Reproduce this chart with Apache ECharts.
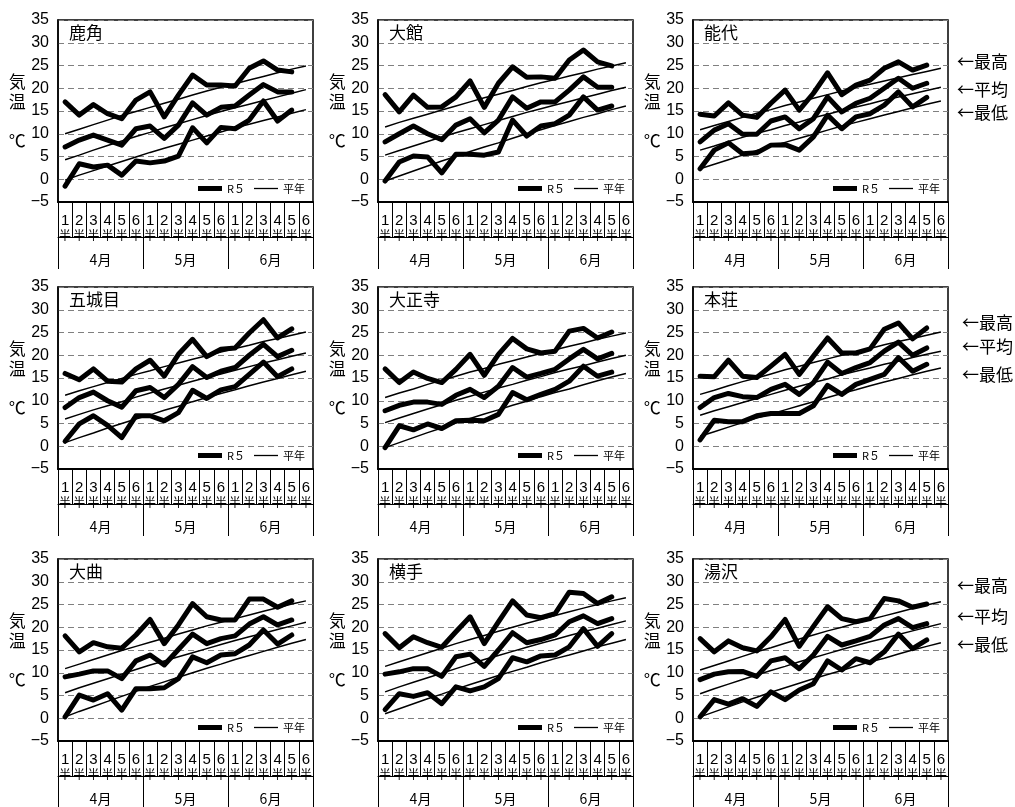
<!DOCTYPE html>
<html>
<head>
<meta charset="utf-8">
<script src="https://cdn.jsdelivr.net/npm/echarts/dist/echarts.min.js"></script>
<style>
  html, body { margin: 0; padding: 0; background: #fff; }
  #main { width: 1015px; height: 807px; }
</style>
</head>
<body>
<div id="main"></div>
<script>
// 半旬ごとの気温（R5：最高・平均・最低）と平年値
const stations = ['鹿角', '大館', '能代', '五城目', '大正寺', '本荘', '大曲', '横手', '湯沢'];
const monthLabels = ['4月', '5月', '6月'];
const halfLabels = ['1', '2', '3', '4', '5', '6'];
const yMin = -5, yMax = 35, yStep = 5;
const sideLabels = ['←最高', '←平均', '←最低'];

// 鹿角
const kazunoMax  = [17.0, 14.1, 16.4, 14.4, 13.3, 17.4, 19.2, 13.7, 18.5, 22.9, 20.7, 20.7, 20.5, 24.4, 26.0, 24.0, 23.6, null];
const kazunoMean = [7.1, 8.6, 9.7, 8.6, 7.5, 11.1, 11.7, 9.0, 11.9, 16.8, 14.1, 15.8, 16.1, 18.5, 20.8, 19.2, 19.2, null];
const kazunoMin  = [-1.5, 3.4, 2.7, 3.1, 0.9, 4.0, 3.6, 4.0, 5.1, 11.3, 8.0, 11.4, 11.1, 13.0, 17.2, 12.8, 15.2, null];
const kazunoNormMax  = [10.0, 11.0, 12.0, 13.0, 14.0, 14.9, 15.8, 16.7, 17.6, 18.5, 19.4, 20.2, 21.0, 21.8, 22.6, 23.4, 24.2, 24.9];
const kazunoNormMean = [4.3, 5.3, 6.4, 7.4, 8.4, 9.4, 10.3, 11.3, 12.2, 13.1, 14.0, 14.9, 15.7, 16.5, 17.3, 18.1, 18.9, 19.7];
const kazunoNormMin  = [-0.2, 0.9, 1.9, 2.9, 3.9, 4.9, 5.9, 6.8, 7.7, 8.6, 9.5, 10.4, 11.3, 12.1, 12.9, 13.7, 14.5, 15.3];

// 大館
const odateMax  = [18.6, 14.8, 18.5, 15.8, 15.9, 18.1, 21.6, 15.8, 21.1, 24.7, 22.4, 22.5, 22.2, 26.2, 28.4, 25.8, 24.9, null];
const odateMean = [8.2, 10.0, 11.7, 10.0, 8.7, 11.9, 13.3, 10.2, 13.0, 18.1, 15.6, 17.0, 17.0, 19.6, 22.5, 20.2, 20.2, null];
const odateMin  = [-0.4, 3.8, 5.1, 4.9, 1.4, 5.5, 5.5, 5.3, 6.0, 13.0, 9.5, 11.7, 12.2, 14.1, 18.1, 15.2, 16.1, null];
const odateNormMax  = [11.5, 12.5, 13.4, 14.3, 15.2, 16.1, 17.0, 17.9, 18.7, 19.5, 20.4, 21.2, 21.9, 22.7, 23.4, 24.2, 24.9, 25.6];
const odateNormMean = [5.3, 6.3, 7.3, 8.3, 9.3, 10.2, 11.1, 12.0, 12.9, 13.8, 14.7, 15.5, 16.3, 17.1, 17.9, 18.7, 19.5, 20.2];
const odateNormMin  = [-0.4, 0.7, 1.8, 2.9, 4.0, 5.0, 6.1, 7.1, 8.0, 9.0, 10.0, 10.9, 11.8, 12.7, 13.6, 14.4, 15.3, 16.1];

// 能代
const noshiroMax  = [14.3, 13.9, 16.8, 14.1, 13.6, 16.7, 19.6, 15.2, 18.9, 23.4, 18.6, 20.7, 21.8, 24.4, 25.8, 24.0, 25.1, null];
const noshiroMean = [8.2, 10.8, 12.2, 9.9, 9.9, 12.8, 13.7, 11.1, 13.3, 18.1, 14.8, 16.7, 17.8, 20.0, 22.2, 20.0, 21.1, null];
const noshiroMin  = [2.3, 6.4, 8.0, 5.6, 5.8, 7.5, 7.6, 6.4, 9.3, 14.1, 11.1, 13.7, 14.4, 16.3, 19.2, 15.9, 18.0, null];
const noshiroNormMax  = [10.9, 11.8, 12.7, 13.6, 14.5, 15.3, 16.2, 17.0, 17.8, 18.6, 19.4, 20.2, 20.9, 21.6, 22.3, 23.0, 23.7, 24.4];
const noshiroNormMean = [6.4, 7.3, 8.3, 9.2, 10.1, 10.9, 11.8, 12.6, 13.5, 14.3, 15.1, 15.9, 16.6, 17.4, 18.1, 18.8, 19.5, 20.2];
const noshiroNormMin  = [2.3, 3.3, 4.3, 5.3, 6.3, 7.2, 8.1, 9.0, 9.9, 10.8, 11.7, 12.5, 13.3, 14.1, 14.9, 15.7, 16.5, 17.2];

// 五城目
const gojomeMax  = [16.0, 14.6, 17.0, 14.3, 14.1, 17.0, 18.9, 15.4, 20.2, 23.5, 19.7, 21.3, 21.6, 24.9, 27.8, 23.8, 25.8, null];
const gojomeMean = [8.5, 10.7, 11.9, 10.0, 8.6, 12.2, 12.9, 10.7, 13.6, 17.5, 15.1, 16.5, 17.3, 20.0, 22.4, 19.7, 21.1, null];
const gojomeMin  = [1.1, 4.9, 6.7, 4.6, 1.9, 6.7, 6.7, 5.6, 7.4, 12.3, 10.5, 12.4, 13.1, 15.8, 18.5, 15.3, 17.0, null];
const gojomeNormMax  = [11.2, 12.2, 13.1, 14.0, 14.9, 15.8, 16.6, 17.5, 18.3, 19.1, 19.9, 20.7, 21.5, 22.2, 23.0, 23.7, 24.4, 25.1];
const gojomeNormMean = [6.0, 7.0, 8.0, 8.9, 9.8, 10.8, 11.7, 12.6, 13.4, 14.3, 15.1, 15.9, 16.7, 17.5, 18.3, 19.0, 19.8, 20.5];
const gojomeNormMin  = [0.8, 1.9, 2.9, 4.0, 5.0, 6.0, 6.9, 7.9, 8.8, 9.8, 10.7, 11.6, 12.4, 13.3, 14.1, 14.9, 15.7, 16.5];

// 大正寺
const taishojiMax  = [17.0, 14.0, 16.3, 14.9, 14.0, 16.9, 20.2, 15.6, 20.2, 23.7, 21.4, 20.5, 20.9, 25.3, 25.9, 23.8, 25.1, null];
const taishojiMean = [7.8, 9.0, 9.7, 9.7, 9.2, 11.2, 12.5, 10.7, 13.2, 17.3, 15.2, 16.0, 16.9, 19.2, 21.3, 19.2, 20.4, null];
const taishojiMin  = [-0.3, 4.5, 3.6, 4.9, 3.9, 5.6, 5.7, 5.6, 7.0, 11.8, 10.2, 11.4, 12.5, 14.3, 17.6, 15.4, 16.3, null];
const taishojiNormMax  = [10.7, 11.7, 12.6, 13.6, 14.5, 15.4, 16.3, 17.1, 18.0, 18.8, 19.6, 20.4, 21.2, 22.0, 22.7, 23.5, 24.2, 24.9];
const taishojiNormMean = [5.2, 6.2, 7.2, 8.2, 9.1, 10.1, 11.0, 11.9, 12.8, 13.6, 14.5, 15.3, 16.2, 17.0, 17.7, 18.5, 19.3, 20.0];
const taishojiNormMin  = [-0.3, 0.8, 1.9, 3.0, 4.0, 5.1, 6.1, 7.1, 8.0, 9.0, 9.9, 10.9, 11.8, 12.6, 13.5, 14.4, 15.2, 16.0];

// 本荘
const honjoMax  = [15.4, 15.3, 18.9, 15.4, 15.1, 17.6, 20.2, 15.8, 19.8, 23.8, 20.5, 20.5, 21.4, 25.7, 27.1, 23.6, 26.0, null];
const honjoMean = [8.5, 10.7, 11.6, 10.9, 10.7, 12.5, 13.6, 11.4, 14.0, 18.5, 16.0, 17.3, 18.4, 20.9, 22.9, 20.0, 21.6, null];
const honjoMin  = [1.4, 5.7, 5.4, 5.4, 6.7, 7.2, 7.2, 7.2, 8.9, 13.4, 11.4, 13.6, 14.7, 15.8, 19.5, 16.5, 18.0, null];
const honjoNormMax  = [11.4, 12.3, 13.3, 14.2, 15.0, 15.9, 16.8, 17.6, 18.4, 19.2, 20.0, 20.8, 21.5, 22.3, 23.0, 23.7, 24.4, 25.1];
const honjoNormMean = [6.8, 7.8, 8.7, 9.6, 10.5, 11.4, 12.3, 13.2, 14.0, 14.8, 15.7, 16.5, 17.2, 18.0, 18.7, 19.5, 20.2, 20.9];
const honjoNormMin  = [2.2, 3.2, 4.2, 5.2, 6.2, 7.1, 8.0, 8.9, 9.8, 10.7, 11.6, 12.4, 13.3, 14.1, 14.9, 15.7, 16.5, 17.2];

// 大曲
const omagariMax  = [18.1, 14.6, 16.6, 15.7, 15.4, 18.3, 21.7, 16.4, 20.5, 25.2, 22.3, 21.6, 21.6, 26.2, 26.2, 24.4, 25.8, null];
const omagariMean = [9.1, 9.7, 10.4, 10.4, 8.7, 12.6, 13.9, 11.7, 15.1, 18.5, 16.4, 17.5, 18.1, 20.7, 22.3, 20.5, 21.6, null];
const omagariMin  = [0.3, 5.1, 4.0, 5.4, 1.8, 6.5, 6.5, 6.7, 8.7, 13.5, 12.2, 13.9, 14.2, 16.1, 19.4, 16.3, 18.3, null];
const omagariNormMax  = [10.9, 11.9, 12.9, 13.9, 14.9, 15.8, 16.7, 17.6, 18.5, 19.4, 20.3, 21.1, 21.9, 22.7, 23.5, 24.3, 25.1, 25.8];
const omagariNormMean = [5.6, 6.7, 7.7, 8.7, 9.7, 10.7, 11.7, 12.6, 13.5, 14.4, 15.3, 16.2, 17.1, 17.9, 18.7, 19.5, 20.3, 21.1];
const omagariNormMin  = [0.3, 1.5, 2.6, 3.7, 4.8, 5.9, 7.0, 8.0, 9.0, 10.0, 11.0, 11.9, 12.9, 13.8, 14.7, 15.6, 16.5, 17.3];

// 横手
const yokoteMax  = [18.6, 15.5, 17.9, 16.6, 15.6, 19.0, 22.3, 16.4, 21.2, 25.8, 22.7, 22.1, 23.0, 27.7, 27.4, 25.2, 26.7, null];
const yokoteMean = [9.7, 10.2, 10.9, 10.9, 9.2, 13.5, 14.1, 11.4, 15.0, 18.8, 16.6, 17.3, 18.3, 21.2, 22.5, 20.8, 21.9, null];
const yokoteMin  = [1.9, 5.4, 4.8, 5.6, 3.2, 6.9, 6.0, 6.9, 8.7, 13.3, 12.4, 13.7, 13.9, 15.7, 19.7, 15.8, 18.6, null];
const yokoteNormMax  = [11.4, 12.4, 13.4, 14.4, 15.4, 16.4, 17.3, 18.2, 19.1, 20.0, 20.9, 21.7, 22.6, 23.4, 24.2, 25.0, 25.8, 26.5];
const yokoteNormMean = [5.8, 6.9, 7.9, 8.9, 9.9, 10.9, 11.9, 12.9, 13.8, 14.7, 15.6, 16.5, 17.3, 18.2, 19.0, 19.8, 20.6, 21.4];
const yokoteNormMin  = [1.0, 2.1, 3.2, 4.3, 5.3, 6.4, 7.4, 8.4, 9.4, 10.3, 11.2, 12.2, 13.1, 13.9, 14.8, 15.7, 16.5, 17.3];

// 湯沢
const yuzawaMax  = [17.5, 14.6, 17.0, 15.5, 14.8, 17.9, 21.7, 15.8, 20.2, 24.5, 21.9, 21.2, 21.9, 26.3, 25.8, 24.4, 25.1, null];
const yuzawaMean = [8.5, 9.7, 10.2, 10.3, 9.2, 12.6, 13.3, 10.9, 13.9, 18.0, 16.1, 17.0, 18.0, 20.5, 21.9, 19.9, 20.8, null];
const yuzawaMin  = [0.3, 4.1, 3.1, 4.3, 2.6, 5.8, 4.1, 6.2, 7.6, 12.6, 10.6, 13.1, 12.2, 14.6, 18.5, 15.3, 17.2, null];
const yuzawaNormMax  = [10.6, 11.6, 12.6, 13.6, 14.6, 15.5, 16.5, 17.4, 18.3, 19.2, 20.0, 20.9, 21.7, 22.5, 23.3, 24.1, 24.9, 25.6];
const yuzawaNormMean = [5.4, 6.5, 7.5, 8.5, 9.5, 10.5, 11.4, 12.4, 13.3, 14.2, 15.1, 16.0, 16.8, 17.6, 18.4, 19.2, 20.0, 20.8];
const yuzawaNormMin  = [0.3, 1.4, 2.5, 3.6, 4.6, 5.7, 6.7, 7.7, 8.7, 9.6, 10.5, 11.5, 12.4, 13.2, 14.1, 15.0, 15.8, 16.6];

const r5Sets = [
  [kazunoMax, kazunoMean, kazunoMin], [odateMax, odateMean, odateMin], [noshiroMax, noshiroMean, noshiroMin],
  [gojomeMax, gojomeMean, gojomeMin], [taishojiMax, taishojiMean, taishojiMin], [honjoMax, honjoMean, honjoMin],
  [omagariMax, omagariMean, omagariMin], [yokoteMax, yokoteMean, yokoteMin], [yuzawaMax, yuzawaMean, yuzawaMin]
];
const normSets = [
  [kazunoNormMax, kazunoNormMean, kazunoNormMin], [odateNormMax, odateNormMean, odateNormMin],
  [noshiroNormMax, noshiroNormMean, noshiroNormMin], [gojomeNormMax, gojomeNormMean, gojomeNormMin],
  [taishojiNormMax, taishojiNormMean, taishojiNormMin], [honjoNormMax, honjoNormMean, honjoNormMin],
  [omagariNormMax, omagariNormMean, omagariNormMin], [yokoteNormMax, yokoteNormMean, yokoteNormMin],
  [yuzawaNormMax, yuzawaNormMean, yuzawaNormMin]
];

// panel layout
const colLeft = [58, 378, 693];
const rowTop = [20, 287, 559];
const panelW = 255, panelH = 182;
const NUM_FONT = "'Liberation Sans Narrow', 'Liberation Sans', Arial, sans-serif";
const CJK_FONT = "'Noto Sans CJK JP', sans-serif";

// category keys: month + half-month number
const categories = [];
monthLabels.forEach(m => halfLabels.forEach(h => categories.push(m + '-' + h)));

const option = {
  animation: false,
  backgroundColor: '#fff',
  grid: [], xAxis: [], yAxis: [], series: [], legend: [], title: [], graphic: []
};

stations.forEach((name, i) => {
  const col = i % 3, row = Math.floor(i / 3);
  const left = colLeft[col], top = rowTop[row];

  option.grid.push({
    left: left, top: top, width: panelW, height: panelH,
    show: true, borderColor: '#000', borderWidth: 1.5, backgroundColor: '#fff'
  });

  option.title.push({
    text: name, left: left + 11, top: top + 4, padding: 0,
    textStyle: { fontSize: 17, fontWeight: 'normal', fontFamily: CJK_FONT, color: '#000' }
  });

  const xBase = option.xAxis.length;
  // half-month cells: number over 半
  option.xAxis.push({
    gridIndex: i, type: 'category', data: categories, position: 'bottom', boundaryGap: true,
    axisLine: { onZero: false, lineStyle: { color: '#000', width: 2 } },
    axisTick: { show: true, interval: 0, length: 35, lineStyle: { color: '#000', width: 1 } },
    axisLabel: {
      interval: 0, margin: 11, color: '#000',
      formatter: v => '{n|' + v.split('-')[1] + '}\n{h|半}',
      rich: {
        n: { fontSize: 15, lineHeight: 15, fontFamily: NUM_FONT, color: '#000' },
        h: { fontSize: 12, lineHeight: 15, fontFamily: CJK_FONT, color: '#000' }
      }
    },
    splitLine: { show: false }
  });
  // rule through the 半 row
  option.xAxis.push({
    gridIndex: i, type: 'category', data: categories, position: 'bottom', offset: 35,
    axisLine: { onZero: false, lineStyle: { color: '#000', width: 1 } },
    axisTick: { show: false }, axisLabel: { show: false }, splitLine: { show: false }
  });
  // month row
  option.xAxis.push({
    gridIndex: i, type: 'category', data: monthLabels, position: 'bottom',
    axisLine: { show: false, onZero: false },
    axisTick: { show: true, interval: 0, length: 67, lineStyle: { color: '#000', width: 1 } },
    axisLabel: { margin: 51, fontSize: 14, color: '#000', fontFamily: CJK_FONT },
    splitLine: { show: false }
  });

  option.yAxis.push({
    gridIndex: i, type: 'value', min: yMin, max: yMax, interval: yStep,
    name: '気\n温\n\n℃', nameLocation: 'middle', nameGap: 40, nameRotate: 0,
    nameTextStyle: { fontSize: 17, lineHeight: 19.5, align: 'center', verticalAlign: 'middle', fontFamily: CJK_FONT, color: '#000' },
    axisLine: { show: true, lineStyle: { color: '#000', width: 1.5 } },
    axisTick: { show: false },
    axisLabel: {
      fontSize: 16, margin: 9, color: '#000', fontFamily: NUM_FONT,
      formatter: v => (v < 0 ? '−' + Math.abs(v) : String(v))
    },
    splitLine: { show: true, lineStyle: { color: '#808080', width: 1, type: [6, 4] } }
  });

  normSets[i].forEach(arr => {
    option.series.push({
      type: 'line', name: '平年', xAxisIndex: xBase, yAxisIndex: i, data: arr,
      symbol: 'none', silent: true, color: '#000', itemStyle: { color: '#000' },
      lineStyle: { color: '#000', width: 1.5 }, z: 2
    });
  });
  r5Sets[i].forEach(arr => {
    option.series.push({
      type: 'line', name: 'R５', xAxisIndex: xBase, yAxisIndex: i, data: arr,
      symbol: 'none', silent: true, color: '#000', itemStyle: { color: '#000' },
      lineStyle: { color: '#000', width: 5, cap: 'round', join: 'round' }, z: 3
    });
  });

  option.legend.push({
    data: [
      { name: 'R５', icon: 'path://M0,0H24V5H0Z' },
      { name: '平年', icon: 'path://M0,0H24V1.3H0Z' }
    ],
    right: 1015 - (left + panelW) + 8, top: top + panelH - 19,
    itemWidth: 24, itemHeight: 6, itemGap: 9, padding: 0,
    selectedMode: false, symbolKeepAspect: true,
    itemStyle: { color: '#000', borderWidth: 0 },
    textStyle: { fontSize: 11, color: '#000', fontFamily: CJK_FONT }
  });
});

// side captions beside the right-hand panels
const sideCaptionY = [[62, 90, 113], [323, 347, 375], [586, 617, 645]];
const sideCaptionX = [957, 962, 957];
sideCaptionY.forEach((ys, r) => {
  ys.forEach((y, k) => {
    option.graphic.push({
      type: 'text', x: sideCaptionX[r], y: y,
      style: { text: sideLabels[k], fontSize: 17, fontFamily: CJK_FONT, fill: '#000', verticalAlign: 'middle' }
    });
  });
});

const chart = echarts.init(document.getElementById('main'));
chart.setOption(option);
</script>
</body>
</html>
